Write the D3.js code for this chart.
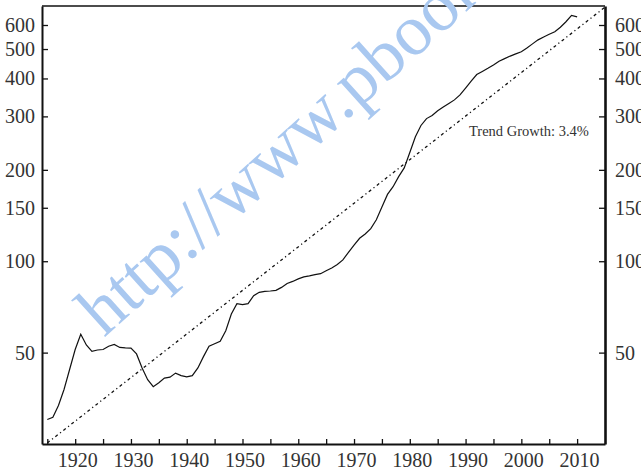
<!DOCTYPE html>
<html>
<head>
<meta charset="utf-8">
<script src="https://cdn.jsdelivr.net/npm/d3@7"></script>
<style>
  body { margin: 0; background: #fff; }
  svg { display: block; }
</style>
</head>
<body>
<svg id="chart"></svg>
<script>
var years = [1915, 1916, 1917, 1918, 1919, 1920, 1921, 1922, 1923, 1924, 1925, 1926, 1927, 1928, 1929,
  1930, 1931, 1932, 1933, 1934, 1935, 1936, 1937, 1938, 1939, 1940, 1941, 1942, 1943, 1944, 1945, 1946,
  1947, 1948, 1949, 1950, 1951, 1952, 1953, 1954, 1955, 1956, 1957, 1958, 1959, 1960, 1961, 1962, 1963,
  1964, 1965, 1966, 1967, 1968, 1969, 1970, 1971, 1972, 1973, 1974, 1975, 1976, 1977, 1978, 1979, 1980,
  1981, 1982, 1983, 1984, 1985, 1986, 1987, 1988, 1989, 1990, 1991, 1992, 1993, 1994, 1995, 1996, 1997,
  1998, 1999, 2000, 2001, 2002, 2003, 2004, 2005, 2006, 2007, 2008, 2009, 2010]
var values = [30.1, 30.6, 33.5, 37.8, 44, 51.2, 57.5, 53, 50.5, 51, 51.2, 52.5, 53.2, 52, 51.8,
  51.7, 49.5, 44.5, 40.7, 38.6, 39.8, 41.2, 41.5, 42.8, 42, 41.6, 42, 44.5, 48.5, 52.5, 53.5, 54.5,
  59, 67, 72.5, 72, 72.5, 77, 79, 79.6, 79.8, 80.2, 82, 84.5, 85.8, 87.5, 88.8, 89.5, 90.3,
  91, 93, 95, 97.5, 101, 107, 113, 119, 123, 128, 137, 151, 166, 176, 190, 203, 228,
  257, 280, 295, 302, 313, 322, 331, 340, 353, 372, 392, 412, 422, 432, 443, 456, 465,
  474, 482, 490, 504, 520, 536, 548, 559, 570, 590, 615, 645, 638]

// trend line end points (3.4% a year)
var trendYears = [1915, 2015]
var trendValues = [25.2, 687]

var yTicks = [50, 100, 150, 200, 300, 400, 500, 600]
var xTicks = d3.range(1915, 2011, 5)
var xLabels = d3.range(1920, 2011, 10)

var dimensions = {
  width: 641,
  height: 473,
  left: 42,
  right: 605,
  top: 6,
  bottom: 444
}

var font = "'Liberation Serif', 'DejaVu Serif', serif"

var svg = d3.select("#chart")
  .attr("width", dimensions.width)
  .attr("height", dimensions.height)

var x = d3.scaleLinear()
  .domain([1914.05, 2015])
  .range([dimensions.left, dimensions.right])

var y = d3.scaleLog()
  .domain([25, 693])
  .range([dimensions.bottom, dimensions.top])

// frame top
svg.append("line")
  .attr("x1", dimensions.left)
  .attr("x2", dimensions.right)
  .attr("y1", dimensions.top)
  .attr("y2", dimensions.top)
  .attr("stroke", "#111")
  .attr("stroke-width", 1.5)

// x ticks
svg.append("g")
  .attr("transform", `translate(0,${dimensions.bottom})`)
  .call(d3.axisBottom(x).tickValues(xTicks).tickSizeInner(-5).tickSizeOuter(0).tickFormat(""))
  .call(g => g.select(".domain").attr("stroke", "#111").attr("stroke-width", 2))
  .call(g => g.selectAll(".tick line").attr("stroke", "#111").attr("stroke-width", 1.3))

// x labels
svg.append("g")
  .attr("transform", `translate(0,${dimensions.bottom})`)
  .call(d3.axisBottom(x).tickValues(xLabels).tickSize(0).tickPadding(9).tickFormat(d3.format("d")))
  .call(g => g.select(".domain").remove())
  .selectAll("text")
    .attr("dx", "2px")
    .attr("fill", "#333")
    .style("font-family", font)
    .style("font-size", "20px")

svg.append("g")
  .attr("transform", `translate(${dimensions.left},0)`)
  .call(d3.axisLeft(y).tickValues(yTicks).tickSizeInner(-6).tickSizeOuter(0).tickPadding(7).tickFormat(d3.format("d")))
  .call(g => g.select(".domain").attr("stroke", "#111").attr("stroke-width", 2))
  .call(g => g.selectAll(".tick line").attr("stroke", "#111").attr("stroke-width", 1.3))
  .selectAll("text")
    .attr("fill", "#333")
    .style("font-family", font)
    .style("font-size", "20px")

svg.append("g")
  .attr("transform", `translate(${dimensions.right},0)`)
  .call(d3.axisRight(y).tickValues(yTicks).tickSizeInner(-6).tickSizeOuter(0).tickPadding(10).tickFormat(d3.format("d")))
  .call(g => g.select(".domain").attr("stroke", "#111").attr("stroke-width", 2.6))
  .call(g => g.selectAll(".tick line").attr("stroke", "#111").attr("stroke-width", 1.3))
  .selectAll("text")
    .attr("fill", "#333")
    .style("font-family", font)
    .style("font-size", "20px")

var line = d3.line()
  .x(d => x(d[0]))
  .y(d => y(d[1]))

svg.append("path")
  .datum(d3.zip(trendYears, trendValues))
  .attr("d", line)
  .attr("fill", "none")
  .attr("stroke", "#111")
  .attr("stroke-width", 1.3)
  .attr("stroke-dasharray", "3,3,1.2,3")

svg.append("path")
  .datum(d3.zip(years, values))
  .attr("d", line)
  .attr("fill", "none")
  .attr("stroke", "#111")
  .attr("stroke-width", 1.2)

svg.append("text")
  .attr("x", 469)
  .attr("y", 136)
  .attr("fill", "#333")
  .style("font-family", font)
  .style("font-size", "14.5px")
  .text("Trend Growth: 3.4%")

// watermark
svg.append("text")
  .attr("transform", "translate(104,338) rotate(-42)")
  .attr("fill", "#a9c8f0")
  .style("font-family", font)
  .style("font-size", "72px")
  .text("http://www.pbook.com")
</script>
</body>
</html>
